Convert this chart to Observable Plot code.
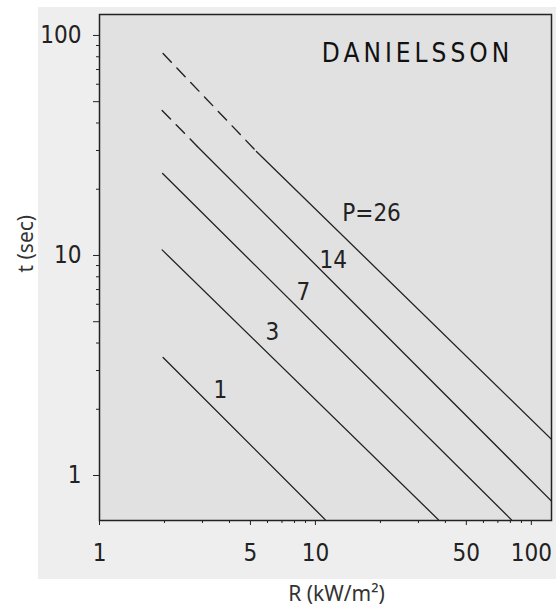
<!DOCTYPE html>
<html>
<head>
<meta charset="utf-8">
<script src="https://cdn.jsdelivr.net/npm/d3@7"></script>
<script src="https://cdn.jsdelivr.net/npm/@observablehq/plot@0.6"></script>
<style>
  html, body { margin: 0; padding: 0; background: #ffffff; }
  #wrap { position: relative; width: 556px; height: 614px; }
  #paper { position: absolute; left: 38px; top: 7px; width: 518px; height: 572px; background: #eeeeee; }
  #chart { position: absolute; left: 0; top: 0; }
</style>
</head>
<body>
<div id="wrap"><div id="paper"></div><div id="chart"></div></div>
<script>
// Curve parameters (P values) and read-off endpoints
const P       = [1, 3, 7, 14, 26];
const startR  = [1.97, 1.95, 1.96, 1.95, 1.97];
const startT  = [3.44, 10.6, 23.6, 45.6, 82.8];
const breakR  = [null, null, null, 2.84, 5.33];   // end of dashed (extrapolated) part
const breakT  = [null, null, null, 31.3, 29.7];
const endR    = [11.1, 37.1, 80.8, 124, 124];
const endT    = [0.63, 0.63, 0.63, 0.765, 1.46];

// Curve labels (centres)
const labelText = ["1", "3", "7", "14", "P=26"];
const labelR    = [3.63, 6.32, 8.8, 12.1, 18.2];
const labelT    = [2.43, 4.47, 6.8, 9.5, 15.5];

// Axis ticks
const xMajor = [1, 5, 10, 50, 100];
const xMinor = [2, 3, 4, 6, 7, 8, 9, 20, 30, 40, 60, 70, 80, 90];
const yMajor = [1, 5, 10, 50, 100];
const yMinor = [2, 3, 4, 6, 7, 8, 9, 20, 30, 40, 60, 70, 80, 90];

const title = "DANIELSSON";
const xLabel = "R (kW/m²)";
const yLabel = "t (sec)";

const solid = [], dashed = [];
P.forEach((p, i) => {
  if (breakR[i] != null) {
    dashed.push({id: p, R: startR[i], t: startT[i]}, {id: p, R: breakR[i], t: breakT[i]});
    solid.push({id: p, R: breakR[i], t: breakT[i]}, {id: p, R: endR[i], t: endT[i]});
  } else {
    solid.push({id: p, R: startR[i], t: startT[i]}, {id: p, R: endR[i], t: endT[i]});
  }
});
const labels = labelText.map((s, i) => ({s, R: labelR[i], t: labelT[i]}));

const tickFont = "'DejaVu Sans Condensed', 'DejaVu Sans', sans-serif";
const labelFont = "'Noto Sans', 'Open Sans', sans-serif";

const svg = Plot.plot({
  width: 556,
  height: 614,
  marginLeft: 99,
  marginRight: 5,
  marginTop: 14,
  marginBottom: 94,
  x: {type: "log", domain: [1, 124]},
  y: {type: "log", domain: [0.6245, 124.5]},
  style: {background: "transparent", fontFamily: tickFont, color: "#222"},
  marks: [
    Plot.frame({fill: "#e1e1e1", stroke: null}),
    Plot.axisX({ticks: xMajor, tickSize: 5, tickPadding: 18, fontSize: 24, tickFormat: d => String(d), label: null, stroke: "#222"}),
    Plot.axisX({ticks: xMinor, tickSize: 3, tickFormat: null, text: null, label: null, stroke: "#222"}),
    Plot.axisY({ticks: yMajor, tickSize: 6, tickPadding: 12, fontSize: 24, tickFormat: d => String(d), label: null, stroke: "#222"}),
    Plot.axisY({ticks: yMinor, tickSize: 3, tickFormat: null, text: null, label: null, stroke: "#222"}),
    Plot.line(dashed, {x: "R", y: "t", z: "id", stroke: "#222", strokeWidth: 1.4, strokeDasharray: "12,8", clip: true}),
    Plot.line(solid, {x: "R", y: "t", z: "id", stroke: "#222", strokeWidth: 1.3, clip: true}),
    Plot.text(labels, {x: "R", y: "t", text: "s", fontSize: 24, fill: "#222", textAnchor: "middle"}),
    Plot.text([title], {frameAnchor: "top", dx: 92, dy: 29, fontSize: 26, fill: "#111", textAnchor: "middle"}),
    Plot.text([xLabel], {frameAnchor: "bottom", dx: 11, dy: 80, fontSize: 21, fill: "#333", fontFamily: labelFont}),
    Plot.text([yLabel], {frameAnchor: "left", dx: -73, dy: 5, rotate: -90, fontSize: 21, fill: "#333", fontFamily: labelFont}),
    Plot.frame({stroke: "#222", strokeWidth: 1.5})
  ]
});

d3.select(svg).selectAll("text")
  .filter(function() { return this.textContent === title; })
  .style("letter-spacing", "4px");
document.getElementById("chart").appendChild(svg);
</script>
</body>
</html>
